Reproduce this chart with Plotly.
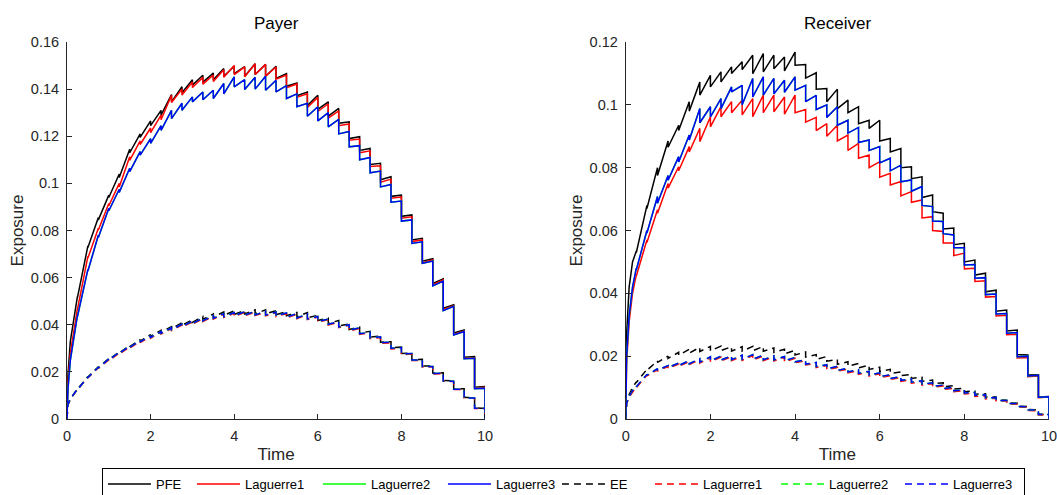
import plotly.graph_objects as go

# ---------------- time grid ----------------
early_t = [0.0, 0.02, 0.08, 0.16]
quarter_t = [0.25, 0.5, 0.75, 1.0, 1.25, 1.5, 1.75, 2.0, 2.25, 2.5,
             2.75, 3.0, 3.25, 3.5, 3.75, 4.0, 4.25, 4.5, 4.75, 5.0,
             5.25, 5.5, 5.75, 6.0, 6.25, 6.5, 6.75, 7.0, 7.25, 7.5,
             7.75, 8.0, 8.25, 8.5, 8.75, 9.0, 9.25, 9.5, 9.75, 10.0]

legend_names = ["PFE", "Laguerre1", "Laguerre2", "Laguerre3",
                "EE", "Laguerre1", "Laguerre2", "Laguerre3"]
panel_titles = ["Payer", "Receiver"]

# ---------------- Payer: PFE (solid) ----------------
payer_pfe_early = [0, 0.018, 0.033, 0.043]
payer_pfe_peak = [0.0520, 0.0735, 0.0855, 0.0950, 0.1040, 0.1145, 0.1210, 0.1265, 0.1310, 0.1377,
                  0.1410, 0.1440, 0.1459, 0.1468, 0.1487, 0.1497, 0.1495, 0.1508, 0.1505, 0.1497,
                  0.1466, 0.1426, 0.1388, 0.1374, 0.1346, 0.1318, 0.1261, 0.1198, 0.1148, 0.1085,
                  0.1028, 0.0950, 0.0866, 0.0767, 0.0680, 0.0595, 0.0485, 0.0378, 0.0265, 0.0138]
payer_pfe_trough = [0.0515, 0.0728, 0.0845, 0.0940, 0.1025, 0.1130, 0.1195, 0.1245, 0.1290, 0.1346,
                    0.1385, 0.1417, 0.1430, 0.1440, 0.1455, 0.1466, 0.1455, 0.1462, 0.1455, 0.1445,
                    0.1412, 0.1372, 0.1330, 0.1314, 0.1285, 0.1255, 0.1190, 0.1140, 0.1080, 0.1015,
                    0.0945, 0.0860, 0.0760, 0.0670, 0.0575, 0.0470, 0.0365, 0.0262, 0.0135, 0.0]

payer_l1_early = [0, 0.015, 0.028, 0.038]
payer_l1_peak = [0.0470, 0.0690, 0.0810, 0.0915, 0.1000, 0.1113, 0.1180, 0.1235, 0.1290, 0.1374,
                 0.1400, 0.1430, 0.1450, 0.1460, 0.1482, 0.1500, 0.1494, 0.1508, 0.1505, 0.1494,
                 0.1460, 0.1422, 0.1380, 0.1365, 0.1338, 0.1308, 0.1252, 0.1188, 0.1138, 0.1075,
                 0.1018, 0.0942, 0.0858, 0.0760, 0.0675, 0.0590, 0.0480, 0.0373, 0.0260, 0.0135]
payer_l1_trough = [0.0465, 0.0683, 0.0802, 0.0905, 0.0985, 0.1098, 0.1165, 0.1215, 0.1270, 0.1343,
                   0.1375, 0.1407, 0.1421, 0.1432, 0.1450, 0.1462, 0.1452, 0.1462, 0.1455, 0.1442,
                   0.1406, 0.1366, 0.1322, 0.1305, 0.1277, 0.1245, 0.1183, 0.1130, 0.1072, 0.1005,
                   0.0937, 0.0852, 0.0753, 0.0663, 0.0570, 0.0465, 0.0360, 0.0257, 0.0132, 0.0]

payer_l3_early = [0, 0.012, 0.025, 0.035]
payer_l3_peak = [0.0440, 0.0635, 0.0780, 0.0894, 0.0975, 0.1064, 0.1135, 0.1190, 0.1245, 0.1310,
                 0.1340, 0.1367, 0.1388, 0.1395, 0.1424, 0.1452, 0.1440, 0.1450, 0.1455, 0.1438,
                 0.1415, 0.1380, 0.1340, 0.1325, 0.1300, 0.1272, 0.1220, 0.1160, 0.1110, 0.1052,
                 0.0995, 0.0925, 0.0845, 0.0752, 0.0670, 0.0585, 0.0478, 0.0371, 0.0258, 0.0131]
payer_l3_trough = [0.0435, 0.0628, 0.0770, 0.0884, 0.0962, 0.1050, 0.1120, 0.1170, 0.1225, 0.1275,
                   0.1310, 0.1346, 0.1355, 0.1360, 0.1380, 0.1410, 0.1398, 0.1400, 0.1395, 0.1388,
                   0.1360, 0.1325, 0.1285, 0.1265, 0.1240, 0.1210, 0.1155, 0.1100, 0.1045, 0.0985,
                   0.0920, 0.0840, 0.0745, 0.0661, 0.0565, 0.0460, 0.0357, 0.0256, 0.0129, 0.0]

# Laguerre2 coincides with Laguerre3 at the resolution of the picture
payer_l2_early = payer_l3_early
payer_l2_peak = payer_l3_peak
payer_l2_trough = payer_l3_trough

# ---------------- Payer: EE (dashed) ----------------
payer_ee_early = [0, 0.006, 0.0085, 0.0108]
payer_ee_peak = [0.0128, 0.0180, 0.0222, 0.0256, 0.0285, 0.0312, 0.0337, 0.0358, 0.0376, 0.0392,
                 0.0408, 0.0421, 0.0435, 0.0446, 0.0454, 0.0459, 0.0461, 0.0463, 0.0463, 0.0460,
                 0.0455, 0.0452, 0.0452, 0.0440, 0.0428, 0.0418, 0.0403, 0.0390, 0.0372, 0.0352,
                 0.0328, 0.0305, 0.0280, 0.0253, 0.0225, 0.0196, 0.0162, 0.0128, 0.0090, 0.0045]
payer_ee_trough = [0.0126, 0.0178, 0.0219, 0.0252, 0.0281, 0.0307, 0.0331, 0.0351, 0.0369, 0.0384,
                   0.0398, 0.0410, 0.0423, 0.0433, 0.0440, 0.0444, 0.0446, 0.0447, 0.0446, 0.0443,
                   0.0438, 0.0434, 0.0430, 0.0418, 0.0406, 0.0395, 0.0380, 0.0365, 0.0347, 0.0326,
                   0.0302, 0.0278, 0.0252, 0.0225, 0.0195, 0.0163, 0.0128, 0.0092, 0.0047, 0.0]

payer_ee_l1_early = [0, 0.006, 0.0084, 0.0106]
payer_ee_l1_peak = [0.0126, 0.0176, 0.0218, 0.0251, 0.0280, 0.0306, 0.0330, 0.0350, 0.0368, 0.0384,
                    0.0399, 0.0412, 0.0425, 0.0436, 0.0444, 0.0449, 0.0452, 0.0454, 0.0454, 0.0451,
                    0.0447, 0.0444, 0.0443, 0.0432, 0.0421, 0.0411, 0.0397, 0.0384, 0.0366, 0.0346,
                    0.0323, 0.0300, 0.0276, 0.0249, 0.0221, 0.0192, 0.0159, 0.0125, 0.0088, 0.0044]
payer_ee_l1_trough = [0.0124, 0.0174, 0.0215, 0.0247, 0.0276, 0.0301, 0.0324, 0.0343, 0.0361, 0.0376,
                      0.0390, 0.0402, 0.0414, 0.0424, 0.0431, 0.0435, 0.0438, 0.0439, 0.0438, 0.0435,
                      0.0430, 0.0426, 0.0422, 0.0411, 0.0399, 0.0388, 0.0374, 0.0359, 0.0341, 0.0321,
                      0.0297, 0.0273, 0.0248, 0.0221, 0.0191, 0.0160, 0.0125, 0.0089, 0.0045, 0.0]

payer_ee_l3_early = [0, 0.006, 0.0085, 0.0107]
payer_ee_l3_peak = [0.0127, 0.0178, 0.0220, 0.0254, 0.0283, 0.0309, 0.0333, 0.0353, 0.0371, 0.0387,
                    0.0402, 0.0415, 0.0428, 0.0439, 0.0447, 0.0452, 0.0455, 0.0457, 0.0457, 0.0454,
                    0.0450, 0.0447, 0.0446, 0.0435, 0.0424, 0.0414, 0.0400, 0.0387, 0.0369, 0.0349,
                    0.0326, 0.0303, 0.0278, 0.0251, 0.0223, 0.0194, 0.0160, 0.0126, 0.0089, 0.0045]
payer_ee_l3_trough = [0.0125, 0.0176, 0.0217, 0.0250, 0.0279, 0.0304, 0.0327, 0.0346, 0.0364, 0.0379,
                      0.0393, 0.0405, 0.0417, 0.0427, 0.0434, 0.0438, 0.0441, 0.0442, 0.0441, 0.0438,
                      0.0433, 0.0429, 0.0425, 0.0414, 0.0402, 0.0391, 0.0377, 0.0362, 0.0344, 0.0324,
                      0.0300, 0.0276, 0.0250, 0.0223, 0.0193, 0.0161, 0.0126, 0.0090, 0.0046, 0.0]
payer_ee_l2_early = payer_ee_l3_early
payer_ee_l2_peak = payer_ee_l3_peak
payer_ee_l2_trough = payer_ee_l3_trough

# ---------------- Receiver: PFE (solid) ----------------
rec_pfe_early = [0, 0.027, 0.042, 0.050]
rec_pfe_peak = [0.0535, 0.0680, 0.0800, 0.0885, 0.0935, 0.1010, 0.1073, 0.1094, 0.1105, 0.1121,
                0.1137, 0.1158, 0.1163, 0.1158, 0.1152, 0.1168, 0.1128, 0.1102, 0.1052, 0.1050,
                0.1015, 0.0994, 0.0951, 0.0951, 0.0893, 0.0861, 0.0803, 0.0771, 0.0713, 0.0655,
                0.0608, 0.0559, 0.0506, 0.0464, 0.0410, 0.0347, 0.0283, 0.0204, 0.0141, 0.0072]
rec_pfe_trough = [0.0530, 0.0670, 0.0775, 0.0865, 0.0918, 0.0980, 0.1031, 0.1057, 0.1073, 0.1100,
                  0.1112, 0.1099, 0.1105, 0.1115, 0.1108, 0.1126, 0.1085, 0.1050, 0.1010, 0.0988,
                  0.0975, 0.0940, 0.0925, 0.0885, 0.0850, 0.0800, 0.0765, 0.0705, 0.0660, 0.0605,
                  0.0555, 0.0500, 0.0458, 0.0405, 0.0343, 0.0280, 0.0205, 0.0140, 0.0070, 0.0]

rec_l1_early = [0, 0.018, 0.031, 0.040]
rec_l1_peak = [0.0460, 0.0570, 0.0666, 0.0750, 0.0803, 0.0867, 0.0925, 0.0962, 0.0994, 0.1010,
               0.1015, 0.1020, 0.1031, 0.1031, 0.1025, 0.1031, 0.0985, 0.0960, 0.0940, 0.0935,
               0.0904, 0.0877, 0.0840, 0.0819, 0.0782, 0.0756, 0.0724, 0.0697, 0.0644, 0.0597,
               0.0560, 0.0528, 0.0480, 0.0440, 0.0390, 0.0330, 0.0270, 0.0196, 0.0137, 0.0070]
rec_l1_trough = [0.0455, 0.0562, 0.0655, 0.0735, 0.0790, 0.0850, 0.0883, 0.0930, 0.0962, 0.0975,
                 0.0968, 0.0962, 0.0975, 0.0978, 0.0970, 0.0975, 0.0945, 0.0918, 0.0900, 0.0885,
                 0.0855, 0.0830, 0.0800, 0.0770, 0.0745, 0.0710, 0.0690, 0.0640, 0.0600, 0.0560,
                 0.0520, 0.0478, 0.0438, 0.0388, 0.0328, 0.0268, 0.0194, 0.0135, 0.0068, 0.0]

rec_l3_early = [0, 0.020, 0.033, 0.042]
rec_l3_peak = [0.0480, 0.0600, 0.0708, 0.0775, 0.0835, 0.0904, 0.0988, 0.0994, 0.1020, 0.1057,
               0.1062, 0.1084, 0.1089, 0.1084, 0.1078, 0.1089, 0.1062, 0.1030, 0.1000, 0.0994,
               0.0951, 0.0928, 0.0888, 0.0867, 0.0830, 0.0808, 0.0761, 0.0740, 0.0676, 0.0629,
               0.0586, 0.0545, 0.0492, 0.0450, 0.0398, 0.0336, 0.0275, 0.0200, 0.0139, 0.0071]
rec_l3_trough = [0.0475, 0.0592, 0.0687, 0.0760, 0.0818, 0.0888, 0.0943, 0.0962, 0.0988, 0.1041,
                 0.1000, 0.1025, 0.1031, 0.1035, 0.1040, 0.1047, 0.1010, 0.0985, 0.0960, 0.0935,
                 0.0910, 0.0880, 0.0855, 0.0815, 0.0790, 0.0755, 0.0725, 0.0680, 0.0630, 0.0590,
                 0.0545, 0.0490, 0.0448, 0.0396, 0.0334, 0.0273, 0.0198, 0.0137, 0.0069, 0.0]
rec_l2_early = rec_l3_early
rec_l2_peak = rec_l3_peak
rec_l2_trough = rec_l3_trough

# ---------------- Receiver: EE (dashed) ----------------
rec_ee_early = [0, 0.005, 0.0078, 0.0100]
rec_ee_peak = [0.0118, 0.0158, 0.0185, 0.0200, 0.0212, 0.0222, 0.0228, 0.0231, 0.0232, 0.0230,
               0.0230, 0.0231, 0.0231, 0.0226, 0.0222, 0.0219, 0.0213, 0.0205, 0.0199, 0.0190,
               0.0182, 0.0177, 0.0171, 0.0165, 0.0158, 0.0150, 0.0142, 0.0133, 0.0124, 0.0115,
               0.0106, 0.0098, 0.0089, 0.0080, 0.0070, 0.0060, 0.0050, 0.0040, 0.0029, 0.0015]
rec_ee_trough = [0.0116, 0.0155, 0.0180, 0.0193, 0.0203, 0.0210, 0.0215, 0.0217, 0.0218, 0.0216,
                 0.0216, 0.0217, 0.0216, 0.0212, 0.0207, 0.0204, 0.0197, 0.0190, 0.0184, 0.0174,
                 0.0168, 0.0163, 0.0158, 0.0151, 0.0145, 0.0138, 0.0129, 0.0120, 0.0112, 0.0103,
                 0.0095, 0.0087, 0.0079, 0.0070, 0.0061, 0.0051, 0.0041, 0.0030, 0.0015, 0.0]

rec_ee_l1_early = [0, 0.0048, 0.0070, 0.0087]
rec_ee_l1_peak = [0.0102, 0.0139, 0.0157, 0.0167, 0.0175, 0.0183, 0.0189, 0.0195, 0.0197, 0.0198,
                  0.0200, 0.0202, 0.0200, 0.0198, 0.0196, 0.0193, 0.0185, 0.0177, 0.0170, 0.0164,
                  0.0159, 0.0154, 0.0149, 0.0144, 0.0138, 0.0132, 0.0125, 0.0119, 0.0112, 0.0105,
                  0.0098, 0.0090, 0.0082, 0.0074, 0.0066, 0.0057, 0.0047, 0.0037, 0.0026, 0.0013]
rec_ee_l1_trough = [0.0100, 0.0137, 0.0153, 0.0161, 0.0167, 0.0173, 0.0178, 0.0182, 0.0185, 0.0186,
                    0.0187, 0.0188, 0.0186, 0.0185, 0.0182, 0.0179, 0.0172, 0.0164, 0.0157, 0.0152,
                    0.0147, 0.0142, 0.0137, 0.0132, 0.0126, 0.0120, 0.0114, 0.0108, 0.0101, 0.0094,
                    0.0087, 0.0080, 0.0072, 0.0064, 0.0057, 0.0048, 0.0038, 0.0027, 0.0013, 0.0]

rec_ee_l3_early = [0, 0.005, 0.0072, 0.0090]
rec_ee_l3_peak = [0.0105, 0.0142, 0.0160, 0.0170, 0.0178, 0.0186, 0.0192, 0.0198, 0.0200, 0.0201,
                  0.0203, 0.0205, 0.0203, 0.0201, 0.0199, 0.0196, 0.0188, 0.0180, 0.0173, 0.0167,
                  0.0162, 0.0157, 0.0152, 0.0147, 0.0141, 0.0135, 0.0128, 0.0122, 0.0115, 0.0108,
                  0.0101, 0.0093, 0.0085, 0.0077, 0.0068, 0.0059, 0.0049, 0.0039, 0.0028, 0.0014]
rec_ee_l3_trough = [0.0103, 0.0140, 0.0156, 0.0164, 0.0170, 0.0176, 0.0181, 0.0185, 0.0188, 0.0189,
                    0.0190, 0.0191, 0.0189, 0.0188, 0.0185, 0.0182, 0.0175, 0.0167, 0.0160, 0.0155,
                    0.0150, 0.0145, 0.0140, 0.0135, 0.0129, 0.0123, 0.0117, 0.0111, 0.0104, 0.0097,
                    0.0090, 0.0083, 0.0075, 0.0067, 0.0059, 0.0050, 0.0040, 0.0029, 0.0014, 0.0]
rec_ee_l2_early = rec_ee_l3_early
rec_ee_l2_peak = rec_ee_l3_peak
rec_ee_l2_trough = rec_ee_l3_trough

# ---------------- ticks ----------------
x_ticks = [0, 2, 4, 6, 8, 10]
payer_y_ticks = [0, 0.02, 0.04, 0.06, 0.08, 0.10, 0.12, 0.14, 0.16]
payer_y_labels = ["0", "0.02", "0.04", "0.06", "0.08", "0.1", "0.12", "0.14", "0.16"]
rec_y_ticks = [0, 0.02, 0.04, 0.06, 0.08, 0.10, 0.12]
rec_y_labels = ["0", "0.02", "0.04", "0.06", "0.08", "0.1", "0.12"]


def build_path(early, peak, trough):
    xs = list(early_t)
    ys = list(early)
    for q, p, tr in zip(quarter_t, peak, trough):
        xs += [q, q]
        ys += [p, tr]
    return xs, ys


colors = ["#000000", "#FF0000", "#00FF00", "#0000FF"] * 2
dashes = ["solid"] * 4 + ["7px,5px"] * 4
legend_entry_widths = [31, 68, 67, 56, 35, 68, 66, 66]

payer_series = [
    (payer_pfe_early, payer_pfe_peak, payer_pfe_trough),
    (payer_l1_early, payer_l1_peak, payer_l1_trough),
    (payer_l2_early, payer_l2_peak, payer_l2_trough),
    (payer_l3_early, payer_l3_peak, payer_l3_trough),
    (payer_ee_early, payer_ee_peak, payer_ee_trough),
    (payer_ee_l1_early, payer_ee_l1_peak, payer_ee_l1_trough),
    (payer_ee_l2_early, payer_ee_l2_peak, payer_ee_l2_trough),
    (payer_ee_l3_early, payer_ee_l3_peak, payer_ee_l3_trough),
]
rec_series = [
    (rec_pfe_early, rec_pfe_peak, rec_pfe_trough),
    (rec_l1_early, rec_l1_peak, rec_l1_trough),
    (rec_l2_early, rec_l2_peak, rec_l2_trough),
    (rec_l3_early, rec_l3_peak, rec_l3_trough),
    (rec_ee_early, rec_ee_peak, rec_ee_trough),
    (rec_ee_l1_early, rec_ee_l1_peak, rec_ee_l1_trough),
    (rec_ee_l2_early, rec_ee_l2_peak, rec_ee_l2_trough),
    (rec_ee_l3_early, rec_ee_l3_peak, rec_ee_l3_trough),
]

fig = go.Figure()
for i, s in enumerate(payer_series):
    xs, ys = build_path(*s)
    fig.add_trace(go.Scatter(x=xs, y=ys, mode="lines", name=legend_names[i],
                             line=dict(color=colors[i], width=1.5, dash=dashes[i]),
                             legendwidth=legend_entry_widths[i],
                             xaxis="x", yaxis="y", showlegend=True))
for i, s in enumerate(rec_series):
    xs, ys = build_path(*s)
    fig.add_trace(go.Scatter(x=xs, y=ys, mode="lines", name=legend_names[i],
                             line=dict(color=colors[i], width=1.5, dash=dashes[i]),
                             xaxis="x2", yaxis="y2", showlegend=False))

FONT = "Liberation Sans, Arial, Helvetica, sans-serif"
AX = "#262626"
common_x = dict(range=[0, 10], tickvals=x_ticks, ticks="inside", ticklen=5, tickcolor=AX,
                showline=True, linecolor=AX, linewidth=1, showgrid=False, zeroline=False,
                tickfont=dict(family=FONT, size=14.5, color=AX), ticklabelstandoff=4,
                ticklabeloverflow="allow",
                title=dict(text="Time", font=dict(family=FONT, size=17, color=AX), standoff=4))
common_y = dict(ticks="inside", ticklen=5, tickcolor=AX, showline=True, linecolor=AX, linewidth=1,
                showgrid=False, zeroline=False,
                tickfont=dict(family=FONT, size=14.5, color=AX), ticklabelstandoff=4,
                ticklabeloverflow="allow",
                title=dict(text="Exposure", font=dict(family=FONT, size=17, color=AX), standoff=2))

left_dom = [0, 0.4257]
right_dom = [0.569, 1.0]

fig.update_layout(
    width=1057, height=495,
    margin=dict(l=67, r=8, t=42, b=76, autoexpand=False),
    paper_bgcolor="white", plot_bgcolor="white",
    font=dict(family=FONT, color=AX),
    xaxis=dict(domain=left_dom, anchor="y", **common_x),
    yaxis=dict(domain=[0, 1], anchor="x", range=[0, 0.16], tickvals=payer_y_ticks,
               ticktext=payer_y_labels, **common_y),
    xaxis2=dict(domain=right_dom, anchor="y2", **common_x),
    yaxis2=dict(domain=[0, 1], anchor="x2", range=[0, 0.12], tickvals=rec_y_ticks,
                ticktext=rec_y_labels, **common_y),
    legend=dict(orientation="h", x=0.0356, xanchor="left", y=-0.130, yanchor="top",
                bgcolor="white", bordercolor="#000000", borderwidth=1,
                font=dict(family=FONT, size=13, color="#000000"),
                itemwidth=43, traceorder="normal", tracegroupgap=0),
    showlegend=True,
)

for title, dom in zip(panel_titles, [left_dom, right_dom]):
    fig.add_annotation(text=title, x=(dom[0] + dom[1]) / 2, y=1.0186, xref="paper", yref="paper",
                       xanchor="center", yanchor="bottom", showarrow=False,
                       font=dict(family=FONT, size=17, color="#000000"))

# remove the default 8px page margin so the 1057x495 figure fills the window exactly
fig.write_html("out.html",
               config={"displayModeBar": False},
               post_script="document.body.style.margin='0px';document.body.style.overflow='hidden';")
